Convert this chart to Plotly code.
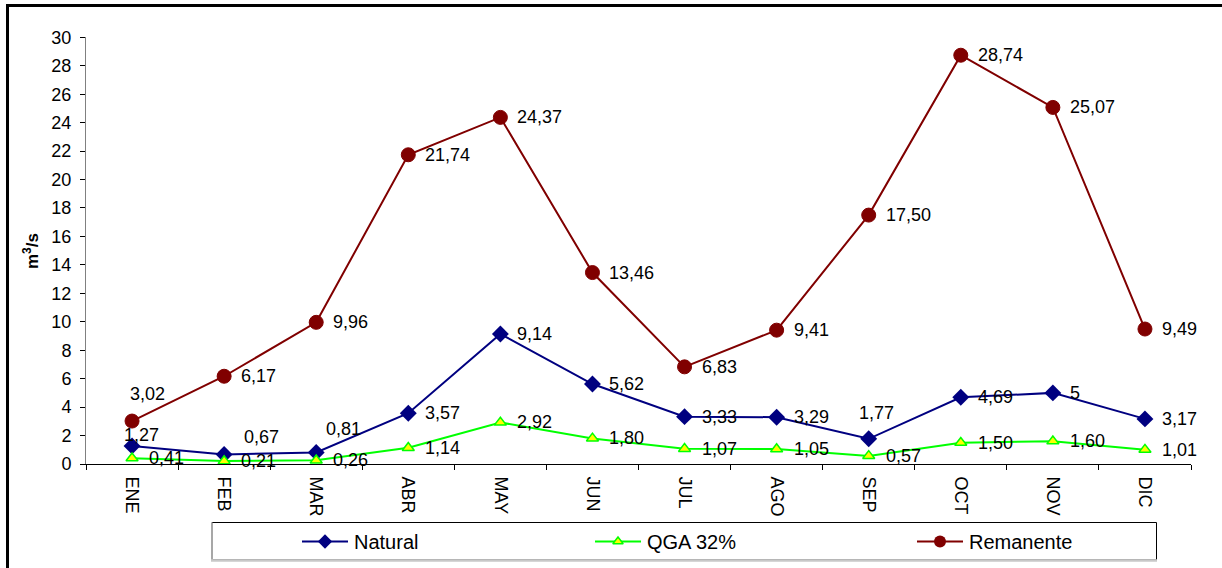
import plotly.graph_objects as go

# Monthly flows (m3/s)
months = ["ENE", "FEB", "MAR", "ABR", "MAY", "JUN", "JUL", "AGO", "SEP", "OCT", "NOV", "DIC"]
natural = [1.27, 0.67, 0.81, 3.57, 9.14, 5.62, 3.33, 3.29, 1.77, 4.69, 5, 3.17]
qga_32 = [0.41, 0.21, 0.26, 1.14, 2.92, 1.80, 1.07, 1.05, 0.57, 1.50, 1.60, 1.01]
remanente = [3.02, 6.17, 9.96, 21.74, 24.37, 13.46, 6.83, 9.41, 17.50, 28.74, 25.07, 9.49]
y_ticks = list(range(0, 31, 2))

W, H = 1222, 568
FONT = "Liberation Sans, Arial, sans-serif"


def fmt_general(v):
    return f"{v:g}".replace(".", ",")


def fmt_2dec(v):
    return f"{v:.2f}".replace(".", ",")


series = [
    dict(name="Natural", values=natural, fmt=fmt_general,
         line=dict(color="#000080", width=2),
         marker=dict(symbol="diamond", size=13, color="#000080", line=dict(width=0)),
         legend_marker=dict(symbol="diamond", size=11, color="#000080", line=dict(width=0))),
    dict(name="QGA 32%", values=qga_32, fmt=fmt_2dec,
         line=dict(color="#00FF00", width=2),
         marker=dict(symbol="triangle-up", size=10.5, color="#FFFF00", line=dict(color="#00FF00", width=1.5)),
         legend_marker=dict(symbol="triangle-up", size=9, color="#FFFF00", line=dict(color="#00FF00", width=1.5))),
    dict(name="Remanente", values=remanente, fmt=fmt_2dec,
         line=dict(color="#800000", width=2),
         marker=dict(symbol="circle", size=14, color="#800000", line=dict(color="#800000", width=1)),
         legend_marker=dict(symbol="circle", size=12, color="#800000", line=dict(width=0))),
]

# label placement: default to the right of the point, a few moved to avoid overlaps
default_place = ("left", 15, 0)
label_place = {
    ("Remanente", "ENE"): ("center", 15, 27),
    ("Natural", "ENE"): ("center", 9, 11),
    ("Natural", "FEB"): ("left", 18, 17),
    ("Natural", "MAR"): ("left", 8, 23),
    ("Natural", "SEP"): ("center", 8, 26),
}

fig = go.Figure()
annotations = []

for s in series:
    fig.add_trace(go.Scatter(
        x=months, y=s["values"], mode="lines+markers", name=s["name"],
        line=s["line"], marker=s["marker"], showlegend=False,
        cliponaxis=False, xaxis="x", yaxis="y", hoverinfo="skip",
    ))
    for m, v in zip(months, s["values"]):
        anchor, dx, dy = label_place.get((s["name"], m), default_place)
        annotations.append(dict(
            x=m, y=v, xref="x", yref="y", text=s["fmt"](v), showarrow=False,
            xanchor=anchor, yanchor="middle", xshift=dx, yshift=dy,
            font=dict(family=FONT, size=18, color="#000000"),
        ))

# custom legend drawn in a pixel-coordinate overlay
legend_items = [("Natural", 302, 348), ("QGA 32%", 595, 641), ("Remanente", 917, 963)]
legend_y = 541.5
for s, (name, x0, x1) in zip(series, legend_items):
    fig.add_trace(go.Scatter(
        x=[x0, x1], y=[legend_y, legend_y], mode="lines", line=s["line"],
        showlegend=False, xaxis="x2", yaxis="y2", hoverinfo="skip",
    ))
    fig.add_trace(go.Scatter(
        x=[(x0 + x1) / 2], y=[legend_y], mode="markers", marker=s["legend_marker"],
        showlegend=False, xaxis="x2", yaxis="y2", hoverinfo="skip",
    ))
    annotations.append(dict(
        x=x1 + 4, y=legend_y, xref="x2", yref="y2", text=name, showarrow=False,
        xanchor="left", yanchor="middle",
        font=dict(family=FONT, size=20, color="#000000"),
    ))

# y axis title
annotations.append(dict(
    x=31, y=251, xref="x2", yref="y2", text="<b>m<sup>3</sup>/s</b>", showarrow=False,
    textangle=-90, xanchor="center", yanchor="middle",
    font=dict(family=FONT, size=17, color="#000000"),
))

shapes = [
    # outer frame
    dict(type="rect", xref="x2", yref="y2", x0=7.5, y0=5.5, x1=W + 10, y1=H + 10,
         line=dict(color="#000000", width=3), fillcolor="rgba(0,0,0,0)", layer="above"),
    # legend box
    dict(type="rect", xref="x2", yref="y2", x0=212, y0=522.5, x1=1156.5, y1=560,
         line=dict(color="#000000", width=1), fillcolor="#FFFFFF", layer="below"),
    dict(type="line", xref="x2", yref="y2", x0=212, y0=522.5, x1=212, y1=561,
         line=dict(color="#B4B4B4", width=1.5), layer="below"),
    dict(type="line", xref="x2", yref="y2", x0=211, y0=560.5, x1=1157, y1=560.5,
         line=dict(color="#C8C8C8", width=2.5), layer="below"),
]

fig.update_layout(
    width=W, height=H, autosize=False,
    margin=dict(l=0, r=0, t=0, b=0, pad=0, autoexpand=False),
    paper_bgcolor="#FFFFFF", plot_bgcolor="rgba(0,0,0,0)",
    font=dict(family=FONT, size=18, color="#000000"),
    showlegend=False,
    xaxis=dict(
        domain=[86 / W, 1191 / W], type="category", range=[-0.5, 11.5],
        tickmode="array", tickvals=months, ticktext=months,
        tickson="boundaries", ticks="outside", ticklen=5, tickcolor="#000000",
        showline=True, linecolor="#000000", linewidth=1,
        tickangle=90, tickfont=dict(family=FONT, size=18, color="#000000"),
        ticklabelstandoff=8,
        showgrid=False, zeroline=False, anchor="y", fixedrange=True, automargin=False,
    ),
    yaxis=dict(
        domain=[1 - 464 / H, 1 - 37.3 / H], range=[0, 30],
        tickmode="array", tickvals=y_ticks, ticktext=[str(t) for t in y_ticks],
        ticks="outside", ticklen=5, tickcolor="#000000",
        showline=True, linecolor="#808080", linewidth=1,
        tickfont=dict(family=FONT, size=18, color="#000000"),
        ticklabelstandoff=5,
        showgrid=False, zeroline=False, anchor="x", fixedrange=True, automargin=False,
    ),
    xaxis2=dict(domain=[0, 1], range=[0, W], visible=False, anchor="y2",
                fixedrange=True, automargin=False),
    yaxis2=dict(domain=[0, 1], range=[H, 0], visible=False, anchor="x2",
                fixedrange=True, automargin=False),
    annotations=annotations,
    shapes=shapes,
)

# page without body margin so the figure fills the window exactly
fig.write_html(
    "out.html",
    config={"responsive": False, "displayModeBar": False},
    post_script="document.body.style.margin='0';document.body.style.overflow='hidden';",
)
